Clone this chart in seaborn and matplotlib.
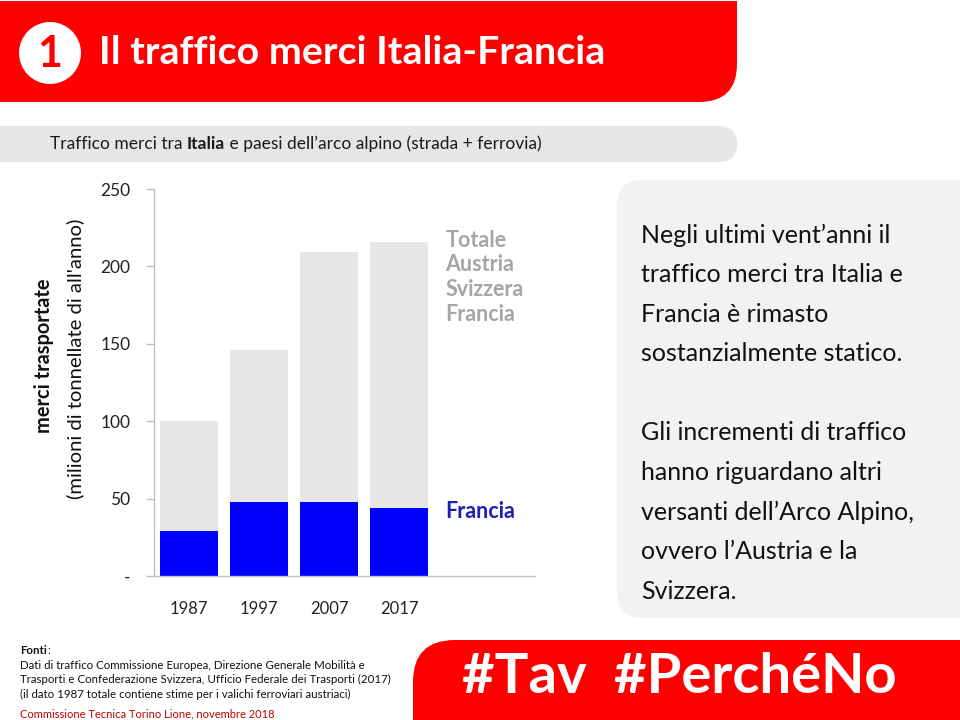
import matplotlib
matplotlib.use("Agg")
import matplotlib.pyplot as plt
import seaborn as sns
from matplotlib.patches import FancyBboxPatch, Rectangle, Circle

# ---- data ----
years = ["1987", "1997", "2007", "2017"]
totale = [100, 146, 209, 216]
francia = [29, 48, 48, 44]
yticks = [0, 50, 100, 150, 200, 250]
ytick_labels = ["-", "50", "100", "150", "200", "250"]
grey_labels = ["Totale", "Austria", "Svizzera", "Francia"]
blue_label = "Francia"

title = "Il traffico merci Italia-Francia"
subtitle_parts = [("Traffico merci tra ", "normal"), ("Italia", "bold"),
                  (" e paesi dell\u2019arco alpino (strada + ferrovia)", "normal")]
ylabel_bold = "merci trasportate"
ylabel_norm = "(milioni di tonnellate di all'anno)"
box_lines = ["Negli ultimi vent\u2019anni il", "traffico merci tra Italia e",
             "Francia è rimasto", "sostanzialmente statico.", "",
             "Gli incrementi di traffico", "hanno riguardano altri",
             "versanti dell\u2019Arco Alpino,", "ovvero l\u2019Austria e la",
             "Svizzera."]
foot_lines = ["Dati di traffico Commissione Europea, Direzione Generale Mobilità e",
              "Trasporti e Confederazione Svizzera, Ufficio Federale dei Trasporti (2017)",
              "(il dato 1987 totale contiene stime per i valichi ferroviari austriaci)"]
foot_red = "Commissione Tecnica Torino Lione, novembre 2018"
hashtag = "#Tav  #PerchéNo"

sns.set_theme(style="white")
plt.rcParams['font.family'] = ['Lato', 'DejaVu Sans']

RED = '#ff0000'
fig = plt.figure(figsize=(9.6, 7.2), dpi=100)
bg = fig.add_axes([0, 0, 1, 1], zorder=0)
bg.set_xlim(0, 960); bg.set_ylim(720, 0); bg.axis('off')

# header band
bg.add_patch(FancyBboxPatch((0, 1), 737, 101, boxstyle="round,pad=0,rounding_size=38", fc=RED, ec='none'))
bg.add_patch(Rectangle((0, 1), 700, 101, fc=RED, ec='none'))
bg.add_patch(Rectangle((0, 1), 737, 60, fc=RED, ec='none'))
bg.add_patch(Circle((50, 53), 31, fc='white', ec='none'))
bg.text(50, 54, "1", color=RED, fontsize=31, fontweight='bold', ha='center', va='center')
bg.text(99, 52, title, color='white', fontsize=28.4, fontweight='bold', ha='left', va='center')

# subtitle band
bg.add_patch(FancyBboxPatch((0, 126), 737, 36, boxstyle="round,pad=0,rounding_size=18", fc='#e6e6e6', ec='none'))
bg.add_patch(Rectangle((0, 126), 700, 36, fc='#e6e6e6', ec='none'))
fig.canvas.draw()
r = fig.canvas.get_renderer()
x = 50
for txt, w in subtitle_parts:
    t = bg.text(x, 144, txt, fontsize=12.5, fontweight=w, color='#1a1a1a', ha='left', va='center')
    bb = t.get_window_extent(renderer=r)
    x += bb.width

# right box
bg.add_patch(FancyBboxPatch((617, 180), 380, 438, boxstyle="round,pad=0,rounding_size=25", fc='#f2f2f2', ec='none'))
for i, line in enumerate(box_lines):
    if line:
        bg.text(641, 235 + i * 39.6, line, fontsize=18, color='#111111', ha='left', va='center')

# bottom band
bg.add_patch(FancyBboxPatch((413, 640), 620, 140, boxstyle="round,pad=0,rounding_size=42", fc=RED, ec='none'))
bg.text(462, 677, hashtag, color='white', fontsize=40.5, fontweight='bold', ha='left', va='center')

# footnote
t = bg.text(20, 651, "Fonti", fontsize=8.3, fontweight='bold', color='#111111', ha='left', va='center')
bb = t.get_window_extent(renderer=r)
bg.text(20 + bb.width, 651, ":", fontsize=8.3, color='#111111', ha='left', va='center')
for i, line in enumerate(foot_lines):
    bg.text(20, 665.5 + i * 14.3, line, fontsize=8.3, color='#111111', ha='left', va='center')
bg.text(20, 714, foot_red, fontsize=8.0, color='#c00000', ha='left', va='center')

# y labels
bg.text(44, 356, ylabel_bold, rotation=90, fontsize=14.4, fontweight='bold', color='#111111', ha='center', va='center')
bg.text(75, 359, ylabel_norm, rotation=90, fontsize=14.6, color='#111111', ha='center', va='center')

# chart
ax = fig.add_axes([0.1604, 0.2, 0.3969, 0.5375], zorder=1)
ax.set_facecolor('none')
sns.barplot(x=years, y=totale, color='#e7e5e5', width=0.83, saturation=1, linewidth=0, ax=ax)
sns.barplot(x=years, y=francia, color='#0000ff', width=0.83, saturation=1, linewidth=0, ax=ax)
ax.set_xlim(-0.5, 4.94)
ax.set_ylim(0, 250)
ax.set_yticks(yticks)
ax.set_yticklabels(ytick_labels)
for s in ['top', 'right']:
    ax.spines[s].set_visible(False)
for s in ['left', 'bottom']:
    ax.spines[s].set_color('#bfbfbf')
    ax.spines[s].set_linewidth(1)
ax.tick_params(axis='y', left=True, length=6, width=1, color='#bfbfbf', labelsize=12.5, labelcolor='#222222', pad=11)
ax.tick_params(axis='x', bottom=False, labelsize=12, labelcolor='#222222', pad=12)
ax.set_xlabel(""); ax.set_ylabel("")

for i, lab in enumerate(grey_labels):
    ax.text(3.66, 217 - i * 16, lab, fontsize=15.5, fontweight='bold', color='#a6a6a6', ha='left', va='center')
ax.text(3.66, 41.5, blue_label, fontsize=15.5, fontweight='bold', color='#2020b0', ha='left', va='center')

fig.savefig("out.png", dpi=100)
